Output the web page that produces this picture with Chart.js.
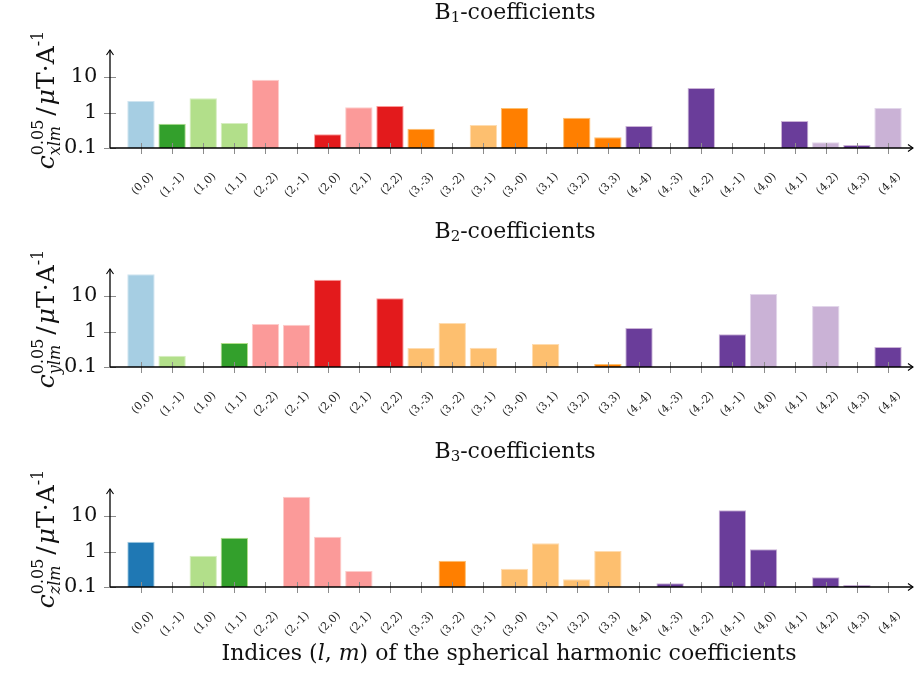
<!DOCTYPE html>
<html>
<head>
<meta charset="utf-8">
<script src="https://cdn.jsdelivr.net/npm/chart.js@4.4.1/dist/chart.umd.min.js"></script>
<style>
  html, body { margin: 0; padding: 0; background: #fff; }
  body { width: 915px; height: 679px; overflow: hidden; position: relative; }
  canvas { position: absolute; left: 0; }
</style>
</head>
<body>
<canvas id="panelB1" width="915" height="215" style="top:0px"></canvas>
<canvas id="panelB2" width="915" height="215" style="top:219px"></canvas>
<canvas id="panelB3" width="915" height="240" style="top:439px"></canvas>
<script>
// Spherical harmonic indices (l, m)
const indexLabels = ['(0,0)', '(1,-1)', '(1,0)', '(1,1)', '(2,-2)', '(2,-1)', '(2,0)', '(2,1)', '(2,2)',
  '(3,-3)', '(3,-2)', '(3,-1)', '(3,-0)', '(3,1)', '(3,2)', '(3,3)',
  '(4,-4)', '(4,-3)', '(4,-2)', '(4,-1)', '(4,0)', '(4,1)', '(4,2)', '(4,3)', '(4,4)'];

// Coefficient magnitudes in µT/A (null = below the 0.1 floor)
const b1Values = [2.11, 0.48, 2.51, 0.51, 8.4, null, 0.243, 1.40, 1.52,
  0.35, null, 0.445, 1.34, null, 0.714, 0.20,
  0.417, null, 4.9, null, null, 0.575, 0.145, 0.122, 1.34];
const b2Values = [41, 0.208, null, 0.474, 1.63, 1.56, 28.8, null, 8.6,
  0.343, 1.73, 0.35, null, 0.445, null, 0.122,
  1.26, null, null, 0.83, 11.4, null, 5.2, null, 0.366];
const b3Values = [1.89, null, 0.76, 2.45, null, 35, 2.61, 0.283, null,
  null, 0.55, null, 0.328, 1.70, 0.165, 1.03,
  null, 0.127, null, 14.5, 1.15, null, 0.187, 0.114, null];

// Colour key of each bar
const b1Colors = ['LB', 'DG', 'LG', 'LG', 'LR', 'DR', 'DR', 'LR', 'DR',
  'DO', 'DO', 'LO', 'DO', 'DO', 'DO', 'DO',
  'DP', 'DP', 'DP', 'DP', 'DP', 'DP', 'LP', 'DP', 'LP'];
const b2Colors = ['LB', 'LG', 'LG', 'DG', 'LR', 'LR', 'DR', 'DR', 'DR',
  'LO', 'LO', 'LO', 'LO', 'LO', 'LO', 'DO',
  'DP', 'DP', 'DP', 'DP', 'LP', 'LP', 'LP', 'DP', 'DP'];
const b3Colors = ['DB', 'LG', 'LG', 'DG', 'LR', 'LR', 'LR', 'LR', 'DR',
  'DO', 'DO', 'LO', 'LO', 'LO', 'LO', 'LO',
  'DP', 'DP', 'DP', 'DP', 'DP', 'DP', 'DP', 'DP', 'DP'];

const yTickValues = [0.1, 1, 10];

const palette = {
  LB: '#a6cee3', DB: '#1f78b4', LG: '#b2df8a', DG: '#33a02c', LR: '#fb9a99',
  DR: '#e31a1c', LO: '#fdbf6f', DO: '#ff7f00', LP: '#cab2d6', DP: '#6a3d9a'
};
// lighter outline for each fill
const outline = {
  LB: '#cfe4f0', DB: '#a6cee3', LG: '#d6eec0', DG: '#b2df8a', LR: '#fdcccb',
  DR: '#fb9a99', LO: '#fedcb0', DO: '#fdbf6f', LP: '#e2d6ea', DP: '#cab2d6'
};

const SERIF = '"DejaVu Serif", "Liberation Serif", serif';
const fontStr = (size, italic) => (italic ? 'italic ' : '') + size + 'px ' + SERIF;

// Geometry shared by all three panels (canvas-local pixels)
const AXIS_X = 110;      // vertical axis line
const AXIS_BOTTOM = 148; // horizontal axis line
const AXIS_TOP = 50;     // arrow tip of vertical axis
const AREA_LEFT = 125.4;
const AREA_RIGHT = 903.6;
const X_END = 913;

function measureRuns(ctx, runs) {
  let w = 0;
  for (const r of runs) {
    const items = r.stack || [r];
    r.w = 0;
    for (const s of items) {
      ctx.font = fontStr(s.size, s.italic);
      r.w = Math.max(r.w, ctx.measureText(s.t).width);
    }
    w += r.w + (r.gap || 0);
  }
  return w;
}
function drawRuns(ctx, runs, cx, baseline) {
  const w = measureRuns(ctx, runs);
  let x = cx - w / 2;
  ctx.textAlign = 'left';
  ctx.textBaseline = 'alphabetic';
  for (const r of runs) {
    const items = r.stack || [r];
    for (const s of items) {
      ctx.font = fontStr(s.size, s.italic);
      ctx.fillText(s.t, x, baseline + (s.dy || 0));
    }
    x += r.w + (r.gap || 0);
  }
}

function arrowHead(ctx, x, y, dir) {
  ctx.beginPath();
  if (dir === 'up') {
    ctx.moveTo(x - 3.5, y + 5); ctx.lineTo(x, y); ctx.lineTo(x + 3.5, y + 5);
  } else {
    ctx.moveTo(x - 5, y - 3.5); ctx.lineTo(x, y); ctx.lineTo(x - 5, y + 3.5);
  }
  ctx.stroke();
}

const panelDecor = {
  id: 'panelDecor',
  afterDatasetsDraw(chart, args, opts) {
    const ctx = chart.ctx;
    const xs = chart.scales.x, ys = chart.scales.y;
    ctx.save();
    // tick marks crossing the axes
    ctx.strokeStyle = '#8c8c8c';
    ctx.lineWidth = 1;
    for (let i = 0; i < indexLabels.length; i++) {
      const px = Math.round(xs.getPixelForValue(i)) + 0.5;
      ctx.beginPath(); ctx.moveTo(px, AXIS_BOTTOM - 5); ctx.lineTo(px, AXIS_BOTTOM + 6); ctx.stroke();
    }
    for (const v of yTickValues) {
      const py = Math.round(ys.getPixelForValue(v)) + 0.5;
      ctx.beginPath(); ctx.moveTo(AXIS_X - 6, py); ctx.lineTo(AXIS_X + 6, py); ctx.stroke();
    }
    // axis lines with arrows
    ctx.strokeStyle = '#000';
    ctx.lineWidth = 1.3;
    ctx.beginPath(); ctx.moveTo(AXIS_X, AXIS_BOTTOM); ctx.lineTo(X_END, AXIS_BOTTOM); ctx.stroke();
    ctx.beginPath(); ctx.moveTo(AXIS_X, AXIS_BOTTOM); ctx.lineTo(AXIS_X, AXIS_TOP); ctx.stroke();
    ctx.lineWidth = 1.1;
    arrowHead(ctx, X_END, AXIS_BOTTOM, 'right');
    arrowHead(ctx, AXIS_X, AXIS_TOP, 'up');

    ctx.fillStyle = '#111';
    // panel title
    drawRuns(ctx, [
      { t: 'B', size: 22 },
      { t: opts.index, size: 15, dy: 3 },
      { t: '-coefficients', size: 22 }
    ], 515, 19);

    // vertical axis title
    ctx.save();
    ctx.translate(54, 100);
    ctx.rotate(-Math.PI / 2);
    drawRuns(ctx, [
      { t: 'c', size: 25, italic: true },
      { stack: [{ t: '0.05', size: 16, dy: -11 }, { t: opts.sub, size: 16, italic: true, dy: 6 }], gap: 4 },
      { t: '/', size: 25, gap: 2 },
      { t: 'μ', size: 25, italic: true },
      { t: 'T·A', size: 25 },
      { t: '-1', size: 16, dy: -11 }
    ], 0, 0);
    ctx.restore();

    // shared horizontal axis title
    if (opts.xTitle) {
      drawRuns(ctx, [
        { t: 'Indices (', size: 22 },
        { t: 'l', size: 22, italic: true },
        { t: ', ', size: 22 },
        { t: 'm', size: 22, italic: true },
        { t: ') of the spherical harmonic coefficients', size: 22 }
      ], 509, 221);
    }
    ctx.restore();
  }
};

function makePanel(canvasId, values, colorKeys, index, sub, xTitle) {
  const canvas = document.getElementById(canvasId);
  const H = canvas.height;
  return new Chart(canvas, {
    type: 'bar',
    data: {
      labels: indexLabels,
      datasets: [{
        data: values,
        backgroundColor: colorKeys.map(k => palette[k]),
        borderColor: colorKeys.map(k => outline[k]),
        borderWidth: 1,
        barPercentage: 0.88,
        categoryPercentage: 1.0
      }]
    },
    options: {
      responsive: false,
      animation: false,
      devicePixelRatio: 1,
      layout: { padding: { left: 0, right: 915 - AREA_RIGHT, top: AXIS_TOP, bottom: 0 } },
      plugins: {
        legend: { display: false },
        tooltip: { enabled: false },
        panelDecor: { index, sub, xTitle }
      },
      scales: {
        x: {
          type: 'category',
          offset: true,
          grid: { display: false, drawTicks: false },
          border: { display: false },
          ticks: {
            autoSkip: false,
            minRotation: 45,
            maxRotation: 45,
            padding: 22,
            labelOffset: 11,
            color: '#222',
            font: { family: SERIF, size: 11 }
          },
          afterFit: s => {
            s.height = H - AXIS_BOTTOM;
            s.paddingLeft = 0;
            s.paddingRight = 0;
          }
        },
        y: {
          type: 'logarithmic',
          min: 0.1,
          max: Math.pow(10, (AXIS_BOTTOM - AXIS_TOP) / 35.5 - 1),
          grid: { display: false, drawTicks: false },
          border: { display: false },
          afterBuildTicks: s => { s.ticks = yTickValues.map(v => ({ value: v })); },
          ticks: {
            padding: 28,
            color: '#111',
            font: { family: SERIF, size: 21 },
            callback: v => String(v)
          },
          afterFit: s => { s.width = AREA_LEFT; }
        }
      }
    },
    plugins: [panelDecor]
  });
}

makePanel('panelB1', b1Values, b1Colors, '1', 'xlm', false);
makePanel('panelB2', b2Values, b2Colors, '2', 'ylm', false);
makePanel('panelB3', b3Values, b3Colors, '3', 'zlm', true);
</script>
</body>
</html>
